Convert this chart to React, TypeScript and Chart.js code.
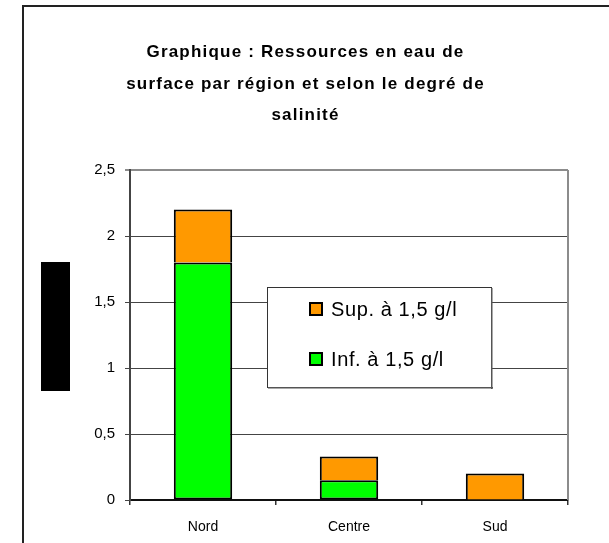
import React, { useEffect, useRef } from "react";
import { Chart, registerables } from "chart.js";

Chart.register(...registerables);

const categories = ["Nord", "Centre", "Sud"];
const infValues = [1.8, 0.15, 0];
const supValues = [0.4, 0.18, 0.2];
const infLabel = "Inf. à 1,5 g/l";
const supLabel = "Sup. à 1,5 g/l";
const titleLines = [
  "Graphique : Ressources en eau de",
  "surface par région et selon le degré de",
  "salinité",
];
const yTickValues = [0, 0.5, 1, 1.5, 2, 2.5];

const FONT = "'Liberation Sans', Arial, Helvetica, sans-serif";
const GREEN = "#00FF00";
const ORANGE = "#FF9900";

const backgroundPlugin = {
  id: "bgFrame",
  beforeDraw(chart: any) {
    const ctx = chart.ctx;
    ctx.save();
    ctx.fillStyle = "#ffffff";
    ctx.fillRect(0, 0, chart.width, chart.height);
    // outer frame (left and top only)
    ctx.fillStyle = "#222222";
    ctx.fillRect(22, 5, 2, chart.height - 5);
    ctx.fillRect(22, 5, chart.width - 22, 2);
    // black block left of the axis (axis title area)
    ctx.fillStyle = "#000000";
    ctx.fillRect(41, 262, 29, 129);
    ctx.restore();
  },
  beforeDatasetsDraw(chart: any) {
    const { ctx, chartArea } = chart;
    ctx.save();
    ctx.strokeStyle = "#8c8c8c";
    ctx.lineWidth = 2;
    ctx.beginPath();
    ctx.moveTo(chartArea.right, chartArea.top);
    ctx.lineTo(chartArea.right, chartArea.bottom);
    ctx.stroke();
    ctx.restore();
  },
};

const titlePlugin = {
  id: "spacedTitle",
  afterDraw(chart: any) {
    const ctx = chart.ctx;
    ctx.save();
    ctx.font = `bold 17px ${FONT}`;
    (ctx as any).letterSpacing = "1.2px";
    ctx.fillStyle = "#000";
    ctx.textAlign = "center";
    ctx.textBaseline = "alphabetic";
    const baselines = [57, 89, 120];
    titleLines.forEach((line, i) => {
      ctx.fillText(line, chart.width / 2 + 1, baselines[i]);
    });
    ctx.restore();
  },
};

const legendPlugin = {
  id: "boxLegend",
  afterDraw(chart: any) {
    const ctx = chart.ctx;
    const ca = chart.chartArea;
    const x0 = ca.left + 137;
    const y0 = ca.top + 117;
    const w = 224;
    const h = 100;
    ctx.save();
    ctx.fillStyle = "#fff";
    ctx.fillRect(x0, y0, w, h);
    ctx.strokeStyle = "#333";
    ctx.lineWidth = 1;
    ctx.strokeRect(x0 + 0.5, y0 + 0.5, w, h);
    ctx.fillStyle = "#555";
    ctx.fillRect(x0 + w, y0 + 1, 1.5, h + 1);
    ctx.fillRect(x0 + 1, y0 + h, w + 1, 1.5);
    const items = chart.data.datasets.slice().reverse();
    ctx.font = `20px ${FONT}`;
    (ctx as any).letterSpacing = "0.6px";
    ctx.textBaseline = "middle";
    ctx.textAlign = "left";
    items.forEach((ds: any, i: number) => {
      const cy = y0 + 22 + i * 50;
      ctx.fillStyle = "#000";
      ctx.fillRect(x0 + 42, cy - 7, 14, 14);
      ctx.fillStyle = ds.backgroundColor;
      ctx.fillRect(x0 + 44, cy - 5, 10, 10);
      ctx.fillStyle = "#000";
      ctx.fillText(ds.label, x0 + 64, cy + 1);
    });
    ctx.restore();
  },
};

export default function App() {
  const canvasRef = useRef<HTMLCanvasElement | null>(null);

  useEffect(() => {
    const canvas = canvasRef.current;
    if (!canvas) return;
    const chart = new Chart(canvas, {
      type: "bar",
      data: {
        labels: categories,
        datasets: [
          {
            label: infLabel,
            data: infValues,
            backgroundColor: GREEN,
            borderColor: "#000",
            borderWidth: 2,
            borderSkipped: false,
            barPercentage: 0.4,
            categoryPercentage: 1,
          },
          {
            label: supLabel,
            data: supValues,
            backgroundColor: ORANGE,
            borderColor: "#000",
            borderWidth: 2,
            borderSkipped: "bottom",
            barPercentage: 0.4,
            categoryPercentage: 1,
          },
        ],
      },
      options: {
        responsive: false,
        animation: false,
        layout: { padding: { left: 0, right: 41, top: 170, bottom: 0 } },
        plugins: {
          legend: { display: false },
          title: { display: false },
          tooltip: { enabled: false },
        },
        scales: {
          x: {
            stacked: true,
            grid: {
              offset: true,
              drawOnChartArea: false,
              drawTicks: true,
              tickLength: 5,
              color: "#333",
              lineWidth: 1.5,
            },
            border: { color: "#111", width: 2 },
            ticks: {
              color: "#000",
              font: { family: FONT, size: 14 },
              padding: 14,
            },
            afterFit(scale: any) {
              scale.height = 43;
            },
          },
          y: {
            stacked: true,
            min: 0,
            max: 2.5,
            afterBuildTicks(scale: any) {
              scale.ticks = yTickValues.map((v) => ({ value: v }));
            },
            ticks: {
              color: "#000",
              font: { family: FONT, size: 15 },
              padding: 10,
              callback: (v: any) => String(v).replace(".", ","),
            },
            grid: {
              color: (c: any) => (c.tick && c.tick.value === 2.5 ? "#8c8c8c" : "#444"),
              lineWidth: (c: any) => (c.tick && c.tick.value === 2.5 ? 2 : 1),
              tickLength: 5,
              drawTicks: true,
            },
            border: { color: "#444", width: 2 },
            afterFit(scale: any) {
              scale.width = 130;
            },
          },
        },
      },
      plugins: [backgroundPlugin, titlePlugin, legendPlugin],
    });
    return () => chart.destroy();
  }, []);

  return (
    <div style={{ position: "absolute", left: 0, top: 0, width: 609, height: 543 }}>
      <canvas ref={canvasRef} width={609} height={543} style={{ display: "block" }} />
    </div>
  );
}
